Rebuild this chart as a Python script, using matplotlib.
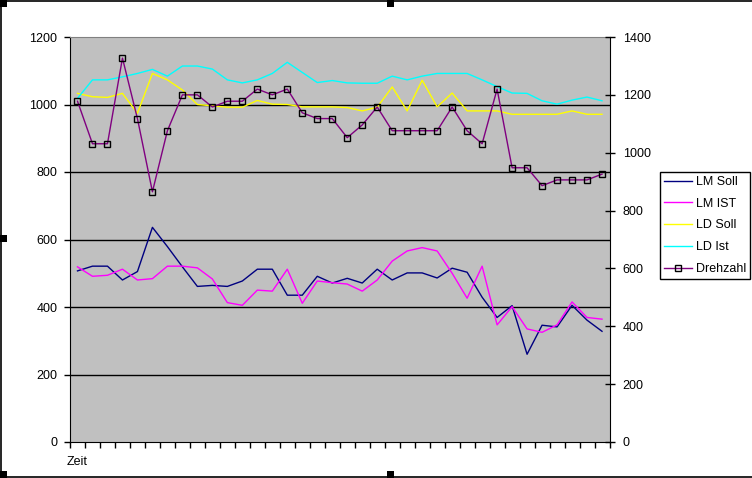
import matplotlib
matplotlib.use("Agg")
import matplotlib.pyplot as plt
from matplotlib.lines import Line2D
from matplotlib.patches import Rectangle
import numpy as np

plt.rcParams['font.family'] = ['Liberation Sans', 'DejaVu Sans']
plt.rcParams['font.size'] = 9

# Werte
lm_soll = [507, 521, 521, 480, 505, 636, 579, 519, 461, 464, 461, 477, 512, 512, 435, 435, 491, 471,
           485, 471, 512, 480, 501, 501, 486, 515, 503, 429, 369, 404, 260, 346, 341, 405, 361, 328]
lm_ist = [519, 491, 494, 512, 480, 484, 521, 521, 516, 483, 413, 405, 450, 447, 512, 411, 477, 472,
          468, 447, 480, 536, 566, 576, 566, 500, 426, 521, 347, 401, 335, 325, 347, 415, 369, 364]
ld_soll = [1033, 1023, 1021, 1033, 974, 1092, 1073, 1043, 1000, 996, 992, 992, 1012, 1001, 1000, 993, 993, 993,
           991, 981, 992, 1052, 981, 1072, 993, 1034, 981, 981, 981, 971, 971, 971, 971, 981, 971, 971]
ld_ist = [1018, 1073, 1073, 1082, 1092, 1104, 1084, 1114, 1114, 1105, 1073, 1064, 1073, 1092, 1125, 1095, 1065, 1071,
          1064, 1063, 1063, 1084, 1073, 1084, 1092, 1092, 1092, 1073, 1053, 1034, 1033, 1011, 1001, 1013, 1022, 1011]
drehzahl = [1178, 1031, 1031, 1327, 1118, 865, 1076, 1200, 1200, 1158, 1178, 1178, 1220, 1200, 1220, 1138, 1118, 1118,
            1052, 1096, 1158, 1076, 1076, 1076, 1076, 1158, 1076, 1031, 1220, 948, 948, 886, 906, 906, 906, 926]
left_ticks = [0, 200, 400, 600, 800, 1000, 1200]
right_ticks = [0, 200, 400, 600, 800, 1000, 1200, 1400]

W, H = 752, 478
fig = plt.figure(figsize=(W / 100, H / 100), dpi=100)
ax = fig.add_axes([70 / W, (H - 442) / H, (609.5 - 70) / W, (442 - 37) / H])
ax.set_facecolor('#C0C0C0')

x = np.arange(len(lm_soll))
ax.set_xlim(-0.5, len(x) - 0.5)
ax.set_ylim(0, 1200)
ax.set_yticks(left_ticks)
ax.tick_params(axis='y', direction='out', length=4, width=1, pad=5, colors='black')
for v in left_ticks[1:-1]:
    ax.axhline(v, color='black', lw=1, zorder=1)

ax.set_xticks([0])
ax.set_xticklabels(['Zeit'])
ax.set_xticks(np.arange(-0.5, len(x), 1), minor=True)
ax.tick_params(axis='x', which='major', length=0, pad=10)
ax.tick_params(axis='x', which='minor', length=4, width=1, direction='out')

ax.spines['top'].set_color('#808080')
ax.spines['right'].set_visible(False)
for s in ['left', 'bottom']:
    ax.spines[s].set_color('black')

l1, = ax.plot(x, lm_soll, color='#000080', lw=1, zorder=3)
l2, = ax.plot(x, lm_ist, color='#FF00FF', lw=1, zorder=3)
l3, = ax.plot(x, ld_soll, color='#FFFF00', lw=1, zorder=3)
l4, = ax.plot(x, ld_ist, color='#00FFFF', lw=1, zorder=3)

ax2 = ax.twinx()
ax2.set_ylim(0, 1400)
ax2.set_yticks(right_ticks)
ax2.tick_params(axis='y', direction='inout', length=7, width=1, pad=6)
ax2.spines['right'].set_color('black')
ax2.spines['top'].set_visible(False)
ax2.spines['left'].set_visible(False)
ax2.spines['bottom'].set_visible(False)
l5, = ax2.plot(x, drehzahl, color='#800080', lw=1, marker='s', markersize=5,
               markerfacecolor='none', markeredgecolor='black', markeredgewidth=1)

leg = fig.legend([l1, l2, l3, l4, l5], ['LM Soll', 'LM IST', 'LD Soll', 'LD Ist', 'Drehzahl'],
                 loc='upper left', bbox_to_anchor=(660 / W, 1 - 171.5 / H),
                 frameon=True, fancybox=False, edgecolor='black', framealpha=1,
                 handlelength=2.2, handletextpad=0.3, labelspacing=0.78,
                 borderpad=0.35, borderaxespad=0, fontsize=9)
leg.get_frame().set_linewidth(1)

# Rahmen und Markierungspunkte der Auswahl
fig.add_artist(Line2D([0, 1], [1 - 0.5 / H, 1 - 0.5 / H], color='black', lw=1.2, transform=fig.transFigure))
fig.add_artist(Line2D([0.5 / W, 0.5 / W], [0, 1], color='black', lw=1.2, transform=fig.transFigure))
fig.add_artist(Line2D([0, 1], [1.5 / H, 1.5 / H], color='black', lw=1.2, transform=fig.transFigure))
for hx, hy in [(0, 0), (387, 0), (0, 235), (0, 471), (387, 471)]:
    fig.add_artist(Rectangle((hx / W, 1 - (hy + 7) / H), 7 / W, 7 / H, facecolor='black',
                             edgecolor='none', transform=fig.transFigure))

fig.savefig('out.png', dpi=100)
